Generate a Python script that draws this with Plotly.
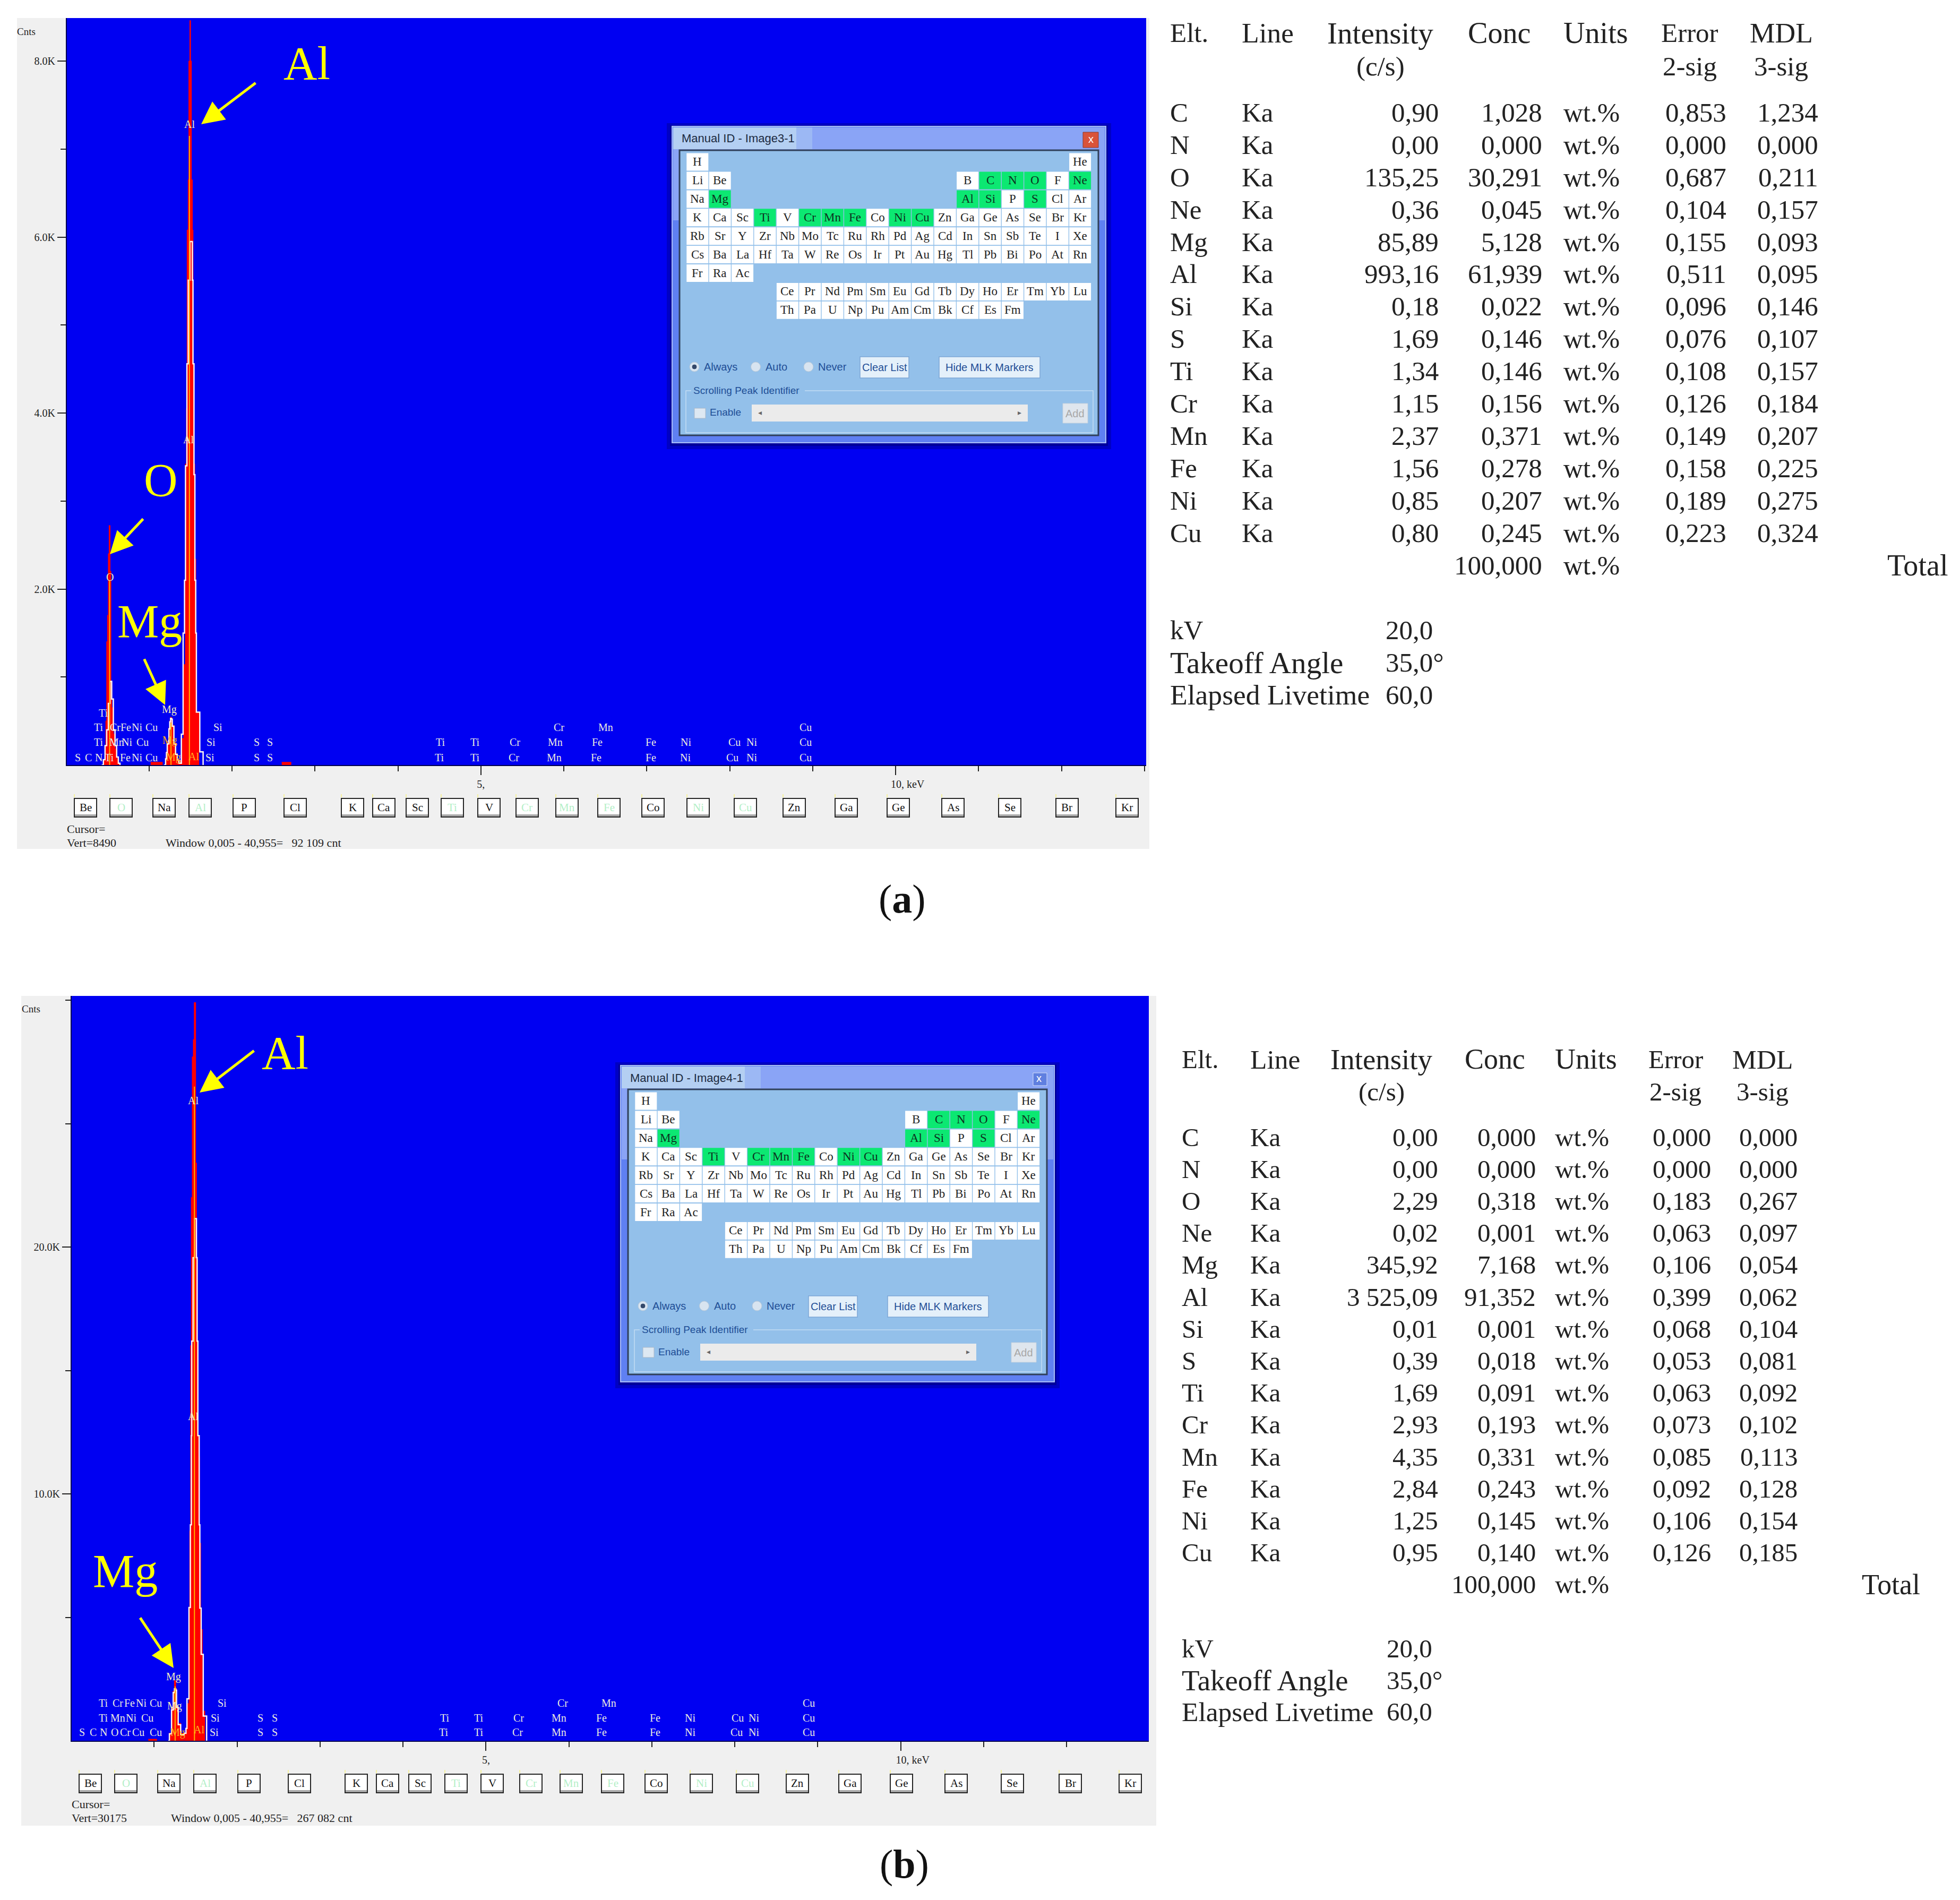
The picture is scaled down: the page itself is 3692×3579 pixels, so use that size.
import plotly.graph_objects as go

W, H = 3692, 3579
PAGE_MARGIN = 8
FIG_W, FIG_H = W - 2 * PAGE_MARGIN, H - 2 * PAGE_MARGIN

# ---------- table data ----------
elements = ["C", "N", "O", "Ne", "Mg", "Al", "Si", "S", "Ti", "Cr", "Mn", "Fe", "Ni", "Cu"]
intensity_a = ["0,90", "0,00", "135,25", "0,36", "85,89", "993,16", "0,18", "1,69", "1,34", "1,15", "2,37", "1,56", "0,85", "0,80"]
conc_a = ["1,028", "0,000", "30,291", "0,045", "5,128", "61,939", "0,022", "0,146", "0,146", "0,156", "0,371", "0,278", "0,207", "0,245"]
error_a = ["0,853", "0,000", "0,687", "0,104", "0,155", "0,511", "0,096", "0,076", "0,108", "0,126", "0,149", "0,158", "0,189", "0,223"]
mdl_a = ["1,234", "0,000", "0,211", "0,157", "0,093", "0,095", "0,146", "0,107", "0,157", "0,184", "0,207", "0,225", "0,275", "0,324"]
intensity_b = ["0,00", "0,00", "2,29", "0,02", "345,92", "3 525,09", "0,01", "0,39", "1,69", "2,93", "4,35", "2,84", "1,25", "0,95"]
conc_b = ["0,000", "0,000", "0,318", "0,001", "7,168", "91,352", "0,001", "0,018", "0,091", "0,193", "0,331", "0,243", "0,145", "0,140"]
error_b = ["0,000", "0,000", "0,183", "0,063", "0,106", "0,399", "0,068", "0,053", "0,063", "0,073", "0,085", "0,092", "0,106", "0,126"]
mdl_b = ["0,000", "0,000", "0,267", "0,097", "0,054", "0,062", "0,104", "0,081", "0,092", "0,102", "0,113", "0,128", "0,154", "0,185"]

# ---------- spectrum data, panel (a) ----------
o_a_energy = [0.45, 0.47, 0.48, 0.49, 0.50, 0.51, 0.52, 0.53, 0.54, 0.55, 0.57, 0.59, 0.61, 0.63, 0.65]
o_a_counts = [50, 200, 500, 1400, 1700, 2400, 2720, 2200, 900, 650, 350, 180, 70, 15, 0]
o_a_fit_energy = [0.43, 0.45, 0.47, 0.49, 0.51, 0.53, 0.55, 0.57, 0.59, 0.61, 0.63, 0.65]
o_a_fit = [0, 60, 220, 400, 700, 950, 750, 400, 220, 90, 20, 0]
mg_a_energy = [1.18, 1.20, 1.21, 1.22, 1.24, 1.25, 1.26, 1.27, 1.28, 1.30, 1.32, 1.34, 1.36, 1.38]
mg_a_counts = [0, 80, 150, 250, 420, 500, 540, 530, 450, 250, 130, 60, 25, 20]
mg_a_fit = [0, 70, 140, 240, 410, 490, 530, 520, 440, 240, 120, 55, 20, 15]
al_a_energy = [1.38, 1.40, 1.42, 1.44, 1.452, 1.46, 1.473, 1.481, 1.493, 1.50, 1.51, 1.522, 1.53, 1.54, 1.55, 1.563, 1.571, 1.60]
al_a_counts = [20, 300, 1140, 3420, 4050, 6080, 6650, 8000, 8460, 8000, 6650, 6080, 4560, 3420, 2340, 1140, 600, 0]
al_a_fit_energy = [1.37, 1.39, 1.411, 1.428, 1.44, 1.457, 1.473, 1.493, 1.522, 1.53, 1.542, 1.553, 1.563, 1.571, 1.612, 1.652]
al_a_fit = [20, 350, 1500, 2100, 3400, 4560, 5510, 5950, 5510, 4560, 3300, 2100, 1500, 600, 150, 0]
bump1_a_energy = [1.02, 1.16]
bump1_a_counts = [30, 0]
bump2_a_energy = [2.60, 2.71]
bump2_a_counts = [30, 0]

# ---------- spectrum data, panel (b) ----------
mg_b_energy = [1.17, 1.184, 1.21, 1.23, 1.245, 1.26, 1.27, 1.29, 1.32, 1.36]
mg_b_counts = [0, 300, 1300, 2000, 2430, 2100, 1400, 700, 300, 300]
mg_b_fit = [0, 280, 1250, 1950, 2100, 2050, 1350, 650, 250, 280]
al_b_energy = [1.36, 1.39, 1.40, 1.42, 1.43, 1.44, 1.449, 1.46, 1.473, 1.484, 1.50, 1.51, 1.52, 1.53, 1.545, 1.56, 1.58, 1.61]
al_b_counts = [300, 500, 1500, 5000, 8500, 16000, 22000, 27700, 28400, 29900, 23400, 19500, 16000, 11500, 8000, 4500, 1200, 0]
al_b_fit_energy = [1.36, 1.384, 1.396, 1.42, 1.437, 1.449, 1.453, 1.469, 1.486, 1.51, 1.518, 1.527, 1.543, 1.551, 1.567, 1.592, 1.633]
al_b_fit = [300, 500, 1700, 5400, 8750, 12360, 16190, 19570, 21150, 19570, 16190, 12360, 8750, 5370, 3500, 1000, 0]
bump1_b_energy = [0.93, 1.03]
bump1_b_counts = [60, 0]

# ---------- characteristic-line markers ----------
marker_a_energy = [0.525, 1.265, 1.487]
marker_a_height = [2100, 480, 7150]
marker_b_energy = [1.253, 1.486]
marker_b_height = [2200, 26500]

# ---------- EDS labels ----------
labels_a = [
    (1427, [("S", 146), ("C", 166), ("N", 186), ("Ti", 206), ("Fe", 236), ("Ni", 258), ("Cu", 285),
            ("Si", 395), ("S", 483), ("S", 508), ("Ti", 828), ("Ti", 895), ("Cr", 968),
            ("Mn", 1044), ("Fe", 1123), ("Fe", 1226), ("Ni", 1291), ("Cu", 1379), ("Ni", 1416), ("Cu", 1517)]),
    (1398, [("Ti", 186), ("Mn", 220), ("Ni", 239), ("Cu", 268), ("Si", 397), ("S", 483), ("S", 508),
            ("Ti", 830), ("Ti", 895), ("Cr", 970), ("Mn", 1046), ("Fe", 1125), ("Fe", 1226), ("Ni", 1292),
            ("Cu", 1383), ("Ni", 1416), ("Cu", 1517)]),
    (1370, [("Ti", 186), ("Cr", 217), ("Fe", 237), ("Ni", 258), ("Cu", 285), ("Si", 410),
            ("Cr", 1053), ("Mn", 1141), ("Cu", 1517)]),
    (1343, [("Ti", 195)]),
]
labels_b = [
    (3263, [("S", 154), ("C", 175), ("N", 195), ("O", 216), ("Cr", 236), ("Cu", 260), ("Cu", 293),
            ("Si", 403), ("S", 491), ("S", 517), ("Ti", 836), ("Ti", 902), ("Cr", 975),
            ("Mn", 1053), ("Fe", 1133), ("Fe", 1234), ("Ni", 1300), ("Cu", 1387), ("Ni", 1420), ("Cu", 1523)]),
    (3236, [("Ti", 195), ("Mn", 222), ("Ni", 247), ("Cu", 277), ("Si", 405), ("S", 491), ("S", 517),
            ("Ti", 838), ("Ti", 902), ("Cr", 977), ("Mn", 1053), ("Fe", 1133), ("Fe", 1234), ("Ni", 1300),
            ("Cu", 1389), ("Ni", 1420), ("Cu", 1523)]),
    (3208, [("Ti", 195), ("Cr", 222), ("Fe", 244), ("Ni", 266), ("Cu", 293), ("Si", 418),
            ("Cr", 1060), ("Mn", 1147), ("Cu", 1523)]),
]
peak_labels_a = [("Al", 357, 234), ("Al", 355, 828), ("O", 207, 1087), ("Mg", 319, 1336), ("Mg", 320, 1394),
                 ("Mg", 327, 1427), ("Al", 365, 1425)]
peak_labels_b = [("Al", 364, 2073), ("Al", 364, 2668), ("Mg", 327, 3158), ("Mg", 329, 3213),
                 ("Mg", 335, 3263), ("Al", 375, 3258)]

# ---------- button strip ----------
button_names = ["Be", "O", "Na", "Al", "P", "Cl", "K", "Ca", "Sc", "Ti", "V", "Cr", "Mn", "Fe", "Co", "Ni",
                "Cu", "Zn", "Ga", "Ge", "As", "Se", "Br", "Kr"]
button_x_a = [161, 228, 309, 377, 460, 556, 664, 723, 786, 852, 921, 993, 1068, 1147, 1230, 1315, 1404, 1496, 1594,
              1692, 1795, 1902, 2010, 2123]
button_x_b = [170, 237, 318, 386, 469, 564, 671, 730, 791, 859, 927, 1000, 1076, 1154, 1236, 1321, 1408, 1502, 1601,
              1698, 1801, 1907, 2016, 2129]
selected = {"C", "N", "O", "Ne", "Mg", "Al", "Si", "S", "Ti", "Cr", "Mn", "Fe", "Ni", "Cu"}

# ---------- periodic table ----------
periodic_rows = [
    (0, ["H"]), (17, ["He"]),
    (0, ["Li", "Be"]), (12, ["B", "C", "N", "O", "F", "Ne"]),
    (0, ["Na", "Mg"]), (12, ["Al", "Si", "P", "S", "Cl", "Ar"]),
    (0, "K Ca Sc Ti V Cr Mn Fe Co Ni Cu Zn Ga Ge As Se Br Kr".split()),
    (0, "Rb Sr Y Zr Nb Mo Tc Ru Rh Pd Ag Cd In Sn Sb Te I Xe".split()),
    (0, "Cs Ba La Hf Ta W Re Os Ir Pt Au Hg Tl Pb Bi Po At Rn".split()),
    (0, ["Fr", "Ra", "Ac"]),
    (4, "Ce Pr Nd Pm Sm Eu Gd Tb Dy Ho Er Tm Yb Lu".split()),
    (4, "Th Pa U Np Pu Am Cm Bk Cf Es Fm".split()),
]
periodic_row_index = [0, 0, 1, 1, 2, 2, 3, 4, 5, 6, 7, 8]

SERIF = "Liberation Serif"
SANS = "Liberation Sans"
shapes, annotations = [], []


def px(x):
    return (x - PAGE_MARGIN) / FIG_W


def py(y):
    return 1 - (y - PAGE_MARGIN) / FIG_H


def rect(x0, y0, x1, y1, fill, line=None, lw=0, layer="above"):
    shapes.append(dict(type="rect", xref="paper", yref="paper", x0=px(x0), x1=px(x1), y0=py(y0), y1=py(y1),
                       fillcolor=fill, line=dict(color=line or "rgba(0,0,0,0)", width=lw), layer=layer))


def circle(cx, cy, r, fill, line, lw=1):
    shapes.append(dict(type="circle", xref="paper", yref="paper", x0=px(cx - r), x1=px(cx + r), y0=py(cy - r),
                       y1=py(cy + r), fillcolor=fill, line=dict(color=line, width=lw), layer="above"))


def text(s, x, y, size, color="#222222", anchor="center", font=SERIF):
    annotations.append(dict(text=s, xref="paper", yref="paper", x=px(x), y=py(y), xanchor=anchor, yanchor="middle",
                            showarrow=False, font=dict(family=font, size=size, color=color),
                            borderpad=0, borderwidth=0))


def arrow(x0, y0, x1, y1):
    annotations.append(dict(text="", xref="paper", yref="paper", x=px(x1), y=py(y1), ax=x0 - x1, ay=y0 - y1,
                            axref="pixel", ayref="pixel", showarrow=True, arrowhead=2, arrowsize=1.7, arrowwidth=5,
                            arrowcolor="#ffff00", standoff=0))


def spectrum_panel(left, top, right, bottom, gray_left, gray_right, gray_bottom):
    rect(gray_left, top, left, gray_bottom, "#f0f0f0", layer="below")
    rect(right, top, gray_right, gray_bottom, "#f0f0f0", layer="below")
    rect(left, bottom, right, gray_bottom, "#f0f0f0", layer="below")


spectrum_panel(126, 34, 2159, 1441, 32, 2165, 1599)
spectrum_panel(135, 1876, 2164, 3279, 40, 2178, 3439)


def buttons(xs, y0):
    for name, cx in zip(button_names, xs):
        rect(cx - 21, y0, cx + 21, y0 + 35, "#ffffff", "#262626", 2)
        rect(cx - 20, y0 + 30, cx + 20, y0 + 34, "#a8a8a8")
        rect(cx - 22, y0 - 8, cx - 20, y0 - 2, "#f4f0a0")
        text(name, cx, y0 + 17, 21, "#b4efc8" if name in selected else "#111111")


buttons(button_x_a, 1504)
buttons(button_x_b, 3342)

# status text
text("Cursor=", 126, 1561, 22, anchor="left")
text("Vert=8490", 126, 1587, 22, anchor="left")
text("Window 0,005 - 40,955=\u00a0\u00a0\u00a092\u00a0109\u00a0cnt", 312, 1587, 22, anchor="left")
text("Cursor=", 135, 3398, 22, anchor="left")
text("Vert=30175", 135, 3424, 22, anchor="left")
text("Window 0,005 - 40,955=\u00a0\u00a0\u00a0267\u00a0082\u00a0cnt", 322, 3424, 22, anchor="left")
text("Cnts", 49, 60, 19)
text("Cnts", 58, 1900, 19)

# EDS labels on the spectra
for rows in (labels_a, labels_b):
    for y, items in rows:
        for name, x in items:
            text(name, x, y, 20, "#ecece0")
for name, x, y in peak_labels_a + peak_labels_b:
    warm = y > 1380 and y < 1450 or y > 3250
    text(name, x, y, 20, "#ffb020" if warm and name in ("Al", "Mg") else "#f4f0c0")

# big yellow call-outs
text("Al", 578, 120, 88, "#ffff00")
text("O", 303, 904, 88, "#ffff00")
text("Mg", 282, 1170, 88, "#ffff00")
text("Al", 537, 1983, 88, "#ffff00")
text("Mg", 236, 2959, 88, "#ffff00")
arrow(483, 155, 379, 234)
arrow(271, 976, 207, 1044)
arrow(271, 1240, 311, 1328)
arrow(480, 1978, 376, 2058)
arrow(263, 3046, 327, 3142)


def dialog(dx, dy, title, red_close):
    rect(1256 + dx, 232 + dy, 2093 + dx, 846 + dy, "#0000c4")
    rect(1262 + dx, 236 + dy, 2087 + dx, 840 + dy, "#00009c")
    rect(1266 + dx, 238 + dy, 2083 + dx, 834 + dy, "#5f80f2", "#a9bdf8", 2)
    rect(1268 + dx, 240 + dy, 2081 + dx, 415 + dy, "#8aa4f6")
    rect(1268 + dx, 240 + dy, 1500 + dx, 281 + dy, "#b4cff2")
    rect(1500 + dx, 240 + dy, 1530 + dx, 281 + dy, "#9cb8f4")
    rect(1280 + dx, 283 + dy, 2069 + dx, 820 + dy, "#93c0ea", "#30405a", 3)
    text(title, 1284 + dx, 261 + dy, 22, "#1c2a40", "left", SANS)
    if red_close:
        rect(2040 + dx, 249 + dy, 2069 + dx, 278 + dy, "#d9533a", "#8a3a30", 1)
    else:
        rect(2043 + dx, 252 + dy, 2069 + dx, 276 + dy, "#5f7fe0", "#d8e0f8", 1)
    text("x", 2054.5 + dx, 262 + dy, 20, "#ffffff", font=SANS)
    cell_w, cell_h, x0, y0 = 42.4, 34.9, 1293.3, 288.6
    for (start, names), row in zip(periodic_rows, periodic_row_index):
        for i, name in enumerate(names):
            col = start + i
            cx0 = x0 + col * cell_w + dx
            cy0 = y0 + row * cell_h + dy
            sel = name in selected
            rect(cx0, cy0, cx0 + 41, cy0 + 33, "#0ce872" if sel else "#ffffff")
            text(name, cx0 + 20.5, cy0 + 16, 23, "#0c3020" if sel else "#222222")
    for label, cx, tx in (("Always", 1308, 1326), ("Auto", 1423.5, 1442), ("Never", 1523, 1541)):
        circle(cx + dx, 691 + dy, 9, "#d8e4f0", "#b8c8d8", 1)
        text(label, tx + dx, 691 + dy, 20, "#1f4e96", "left", SANS)
    circle(1308 + dx, 691 + dy, 4, "#33486a", "#33486a", 1)
    rect(1620 + dx, 672 + dy, 1712 + dx, 712 + dy, "#e4f0fa", "#7da6d6", 1.5)
    text("Clear List", 1666 + dx, 692 + dy, 20, "#1f4e96", font=SANS)
    rect(1769 + dx, 672 + dy, 1959 + dx, 712 + dy, "#e4f0fa", "#7da6d6", 1.5)
    text("Hide MLK Markers", 1864 + dx, 692 + dy, 20, "#1f4e96", font=SANS)
    rect(1292 + dx, 736 + dy, 2059 + dx, 815 + dy, "rgba(0,0,0,0)", "#c4dcf4", 1.5)
    rect(1302 + dx, 726 + dy, 1516 + dx, 746 + dy, "#93c0ea")
    text("Scrolling Peak Identifier", 1306 + dx, 735 + dy, 19, "#1f4e96", "left", SANS)
    rect(1308 + dx, 769 + dy, 1329 + dx, 788 + dy, "#dde8f2", "#aab8c8", 1)
    text("Enable", 1337 + dx, 777 + dy, 19, "#1f4e96", "left", SANS)
    rect(1416 + dx, 762 + dy, 1936 + dx, 794 + dy, "#ebebeb")
    text("\u25c2", 1431 + dx, 777 + dy, 14, "#666666", font=SANS)
    text("\u25b8", 1920 + dx, 777 + dy, 14, "#666666", font=SANS)
    rect(2002 + dx, 760 + dy, 2049 + dx, 797 + dy, "#dfe6ee", "#c4d0dc", 1)
    text("Add", 2025 + dx, 779 + dy, 20, "#a8a8a8", font=SANS)


dialog(0, 0, "Manual ID - Image3-1", True)
dialog(-97, 1769, "Manual ID - Image4-1", False)


def results_table(intensity, conc, error, mdl, cols, rows, size):
    ys = rows["first"]
    step = rows["step"]
    wide = size * 1.12
    text("Elt.", cols["elt"], rows["h1"], size, anchor="left")
    text("Line", cols["line"], rows["h1"], size * 1.05, anchor="left")
    text("Intensity", cols["int_c"], rows["h1"], wide)
    text("(c/s)", cols["int_c"], rows["h2"], size)
    text("Conc", cols["conc_c"], rows["h1"], size * 1.1)
    text("Units", cols["units"], rows["h1"], size * 1.1, anchor="left")
    text("Error", cols["err_c"], rows["h1"], size)
    text("2-sig", cols["err_c"], rows["h2"], size)
    text("MDL", cols["mdl_c"], rows["h1"], size * 1.05)
    text("3-sig", cols["mdl_c"], rows["h2"], size)
    for i, el in enumerate(elements):
        y = ys + i * step
        text(el, cols["elt"], y, size, anchor="left")
        text("Ka", cols["line"], y, size, anchor="left")
        text(intensity[i], cols["int_r"], y, size, anchor="right")
        text(conc[i], cols["conc_r"], y, size, anchor="right")
        text("wt.%", cols["units"], y, size, anchor="left")
        text(error[i], cols["err_r"], y, size, anchor="right")
        text(mdl[i], cols["mdl_r"], y, size, anchor="right")
    y = ys + 14 * step
    text("100,000", cols["conc_r"], y, size, anchor="right")
    text("wt.%", cols["units"], y, size, anchor="left")
    text("Total", cols["total_r"], y, size * 1.1, anchor="right")
    for (label, val), yy, sz in zip([("kV", "20,0"), ("Takeoff Angle", "35,0\u00b0"), ("Elapsed Livetime", "60,0")],
                                    rows["foot"], [size, wide, size * 1.05]):
        text(label, cols["elt"], yy, sz, anchor="left")
        text(val, cols["val"], yy, size, anchor="left")


results_table(intensity_a, conc_a, error_a, mdl_a,
              dict(elt=2204, line=2339, int_c=2600, int_r=2710, conc_c=2824, conc_r=2905, units=2945, err_c=3183,
                   err_r=3252, mdl_c=3355, mdl_r=3425, total_r=3669, val=2610),
              dict(h1=62, h2=125, first=212, step=60.9, foot=[1187, 1248, 1309]), 51)
results_table(intensity_b, conc_b, error_b, mdl_b,
              dict(elt=2226, line=2355, int_c=2602, int_r=2709, conc_c=2816, conc_r=2893, units=2929, err_c=3156,
                   err_r=3223, mdl_c=3320, mdl_r=3386, total_r=3617, val=2612),
              dict(h1=1995, h2=2056, first=2142, step=60.2, foot=[3105, 3165, 3224]), 49)

text("(<b>a</b>)", 1699, 1693, 76, "#111111")
text("(<b>b</b>)", 1703, 3511, 76, "#111111")

fig = go.Figure()


def add_peak(xaxis, yaxis, energy, counts):
    fig.add_trace(go.Scatter(x=energy, y=counts, xaxis=xaxis, yaxis=yaxis, mode="lines",
                             line=dict(color="#ff0000", width=1.5, shape="hv"), fill="tozeroy", fillcolor="#ff0000",
                             showlegend=False, hoverinfo="skip"))


def add_fit(xaxis, yaxis, energy, counts):
    fig.add_trace(go.Scatter(x=energy, y=counts, xaxis=xaxis, yaxis=yaxis, mode="lines",
                             line=dict(color="#fff4f0", width=2.5, shape="hv"), showlegend=False, hoverinfo="skip"))


def add_markers(xaxis, yaxis, energies, heights):
    for e, h in zip(energies, heights):
        fig.add_trace(go.Scatter(x=[e, e], y=[0, h], xaxis=xaxis, yaxis=yaxis, mode="lines",
                                 line=dict(color="#ffb400", width=2), showlegend=False, hoverinfo="skip"))


for e, c in [(o_a_energy, o_a_counts), (mg_a_energy, mg_a_counts), (al_a_energy, al_a_counts),
             (bump1_a_energy, bump1_a_counts), (bump2_a_energy, bump2_a_counts)]:
    add_peak("x", "y", e, c)
for e, c in [(o_a_fit_energy, o_a_fit), (mg_a_energy, mg_a_fit), (al_a_fit_energy, al_a_fit)]:
    add_fit("x", "y", e, c)
add_markers("x", "y", marker_a_energy, marker_a_height)

for e, c in [(mg_b_energy, mg_b_counts), (al_b_energy, al_b_counts), (bump1_b_energy, bump1_b_counts)]:
    add_peak("x2", "y2", e, c)
for e, c in [(mg_b_energy, mg_b_fit), (al_b_fit_energy, al_b_fit)]:
    add_fit("x2", "y2", e, c)
add_markers("x2", "y2", marker_b_energy, marker_b_height)

NBSP = "&nbsp;" * 9
axis_font = dict(family=SERIF, size=20, color="#222222")


def x_axis(left, right, anchor, rng):
    return dict(domain=[px(left), px(right)], anchor=anchor, range=rng, showgrid=False, zeroline=False,
                showline=True, linecolor="#000050", linewidth=2, tickmode="array", tickvals=[5, 10],
                ticktext=["5,", NBSP + "10, keV"], ticks="outside", ticklen=17, tickwidth=2, tickcolor="#222222",
                tickfont=axis_font,
                minor=dict(ticks="outside", tickmode="array", tickvals=[1, 2, 3, 4, 6, 7, 8, 9, 11, 12, 13],
                           ticklen=10, tickwidth=2, tickcolor="#222222", showgrid=False))


def y_axis(top, bottom, anchor, rng, vals, labels, minor_vals):
    return dict(domain=[py(bottom), py(top)], anchor=anchor, range=rng, showgrid=False, zeroline=False,
                showline=True, linecolor="#000050", linewidth=2, tickmode="array", tickvals=vals, ticktext=labels,
                ticks="outside", ticklen=16, tickwidth=2, tickcolor="#222222", tickfont=axis_font,
                minor=dict(ticks="outside", tickmode="array", tickvals=minor_vals, ticklen=10, tickwidth=2,
                           tickcolor="#222222", showgrid=False))


fig.update_layout(
    width=FIG_W, height=FIG_H, autosize=False, margin=dict(l=0, r=0, t=0, b=0),
    paper_bgcolor="#ffffff", plot_bgcolor="#0000f2", showlegend=False,
    xaxis=x_axis(126, 2159, "y", [0.01, 13.02]),
    yaxis=y_axis(34, 1441, "x", [0, 8490], [2000, 4000, 6000, 8000], ["2.0K", "4.0K", "6.0K", "8.0K"],
                 [1000, 3000, 5000, 7000]),
    xaxis2=x_axis(135, 2164, "y2", [0.006, 12.99]),
    yaxis2=y_axis(1876, 3279, "x2", [0, 30175], [10000, 20000], ["10.0K", "20.0K"], [5000, 15000, 25000, 30000]),
    shapes=shapes, annotations=annotations,
)

fig.write_html("out.html")
